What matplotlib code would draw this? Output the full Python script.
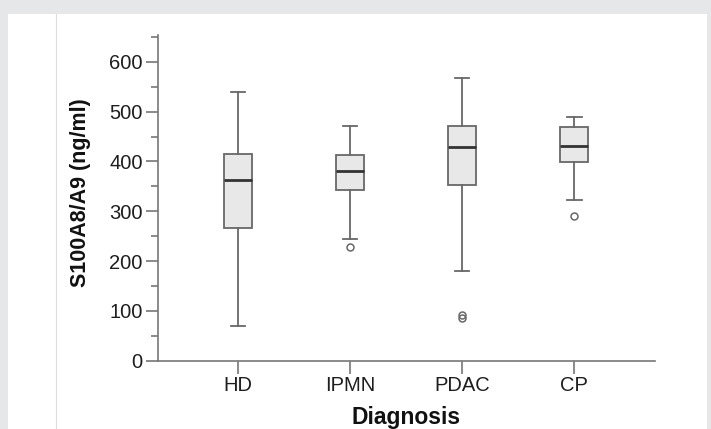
import matplotlib.pyplot as plt
from matplotlib.patches import Rectangle
from matplotlib.lines import Line2D
from matplotlib.ticker import MultipleLocator

# Box plot summary values (ng/ml)
groups = ['HD', 'IPMN', 'PDAC', 'CP']
whislo = [70, 244, 181, 323]
q1 = [266, 343, 353, 398]
med = [362, 380, 429, 431]
q3 = [416, 414, 471, 469]
whishi = [540, 471, 568, 489]
fliers = [[], [228], [85, 91], [291]]

stats = []
for i, g in enumerate(groups):
    stats.append(dict(label=g, whislo=whislo[i], q1=q1[i], med=med[i],
                      q3=q3[i], whishi=whishi[i], fliers=fliers[i]))

plt.rcParams['font.family'] = ['Liberation Sans', 'DejaVu Sans']

fig = plt.figure(figsize=(7.11, 4.29), dpi=100)
fig.patch.set_facecolor('#e6e7e9')
fig.patches.append(Rectangle((8 / 711, 0), 699 / 711, 415 / 429, transform=fig.transFigure,
                             facecolor='white', edgecolor='none', zorder=-10))
fig.lines.append(Line2D([56 / 711, 56 / 711], [0, 415 / 429], transform=fig.transFigure,
                        color='#dddddd', lw=0.8, zorder=-9))

ax = fig.add_axes([158 / 711, 1 - 360.7 / 429, 497 / 711, 325.7 / 429])
ax.set_facecolor('none')

edge = '#686868'
ax.bxp(stats, positions=[1, 2, 3, 4], widths=0.25, patch_artist=True,
       boxprops=dict(facecolor='#e8e8e8', edgecolor=edge, linewidth=1.3),
       whiskerprops=dict(color=edge, linewidth=1.3),
       capprops=dict(color=edge, linewidth=1.3),
       capwidths=0.13,
       medianprops=dict(color='#333333', linewidth=2),
       flierprops=dict(marker='o', markersize=5, markerfacecolor='none',
                       markeredgecolor=edge, markeredgewidth=1.1))

ax.set_xlim(0.286, 4.72)
ax.set_ylim(0, 654)
ax.yaxis.set_major_locator(MultipleLocator(100))
ax.yaxis.set_minor_locator(MultipleLocator(50))

for s in ['top', 'right']:
    ax.spines[s].set_visible(False)
for s in ['left', 'bottom']:
    ax.spines[s].set_color('#777777')
    ax.spines[s].set_linewidth(1.2)

ax.tick_params(axis='both', which='major', length=9, width=1.2, color='#777777',
               labelsize=14.5, labelcolor='#1e1e1e', pad=2)
ax.tick_params(axis='y', which='minor', length=5, width=1.2, color='#777777')

ax.set_ylabel('S100A8/A9 (ng/ml)', fontsize=15.5, fontweight='bold', color='#111111')
ax.yaxis.set_label_coords(-0.135, 0.515)
ax.set_xlabel('Diagnosis', fontsize=16.5, fontweight='bold', color='#111111', labelpad=8)

fig.savefig('out.png', dpi=100, facecolor=fig.get_facecolor())
